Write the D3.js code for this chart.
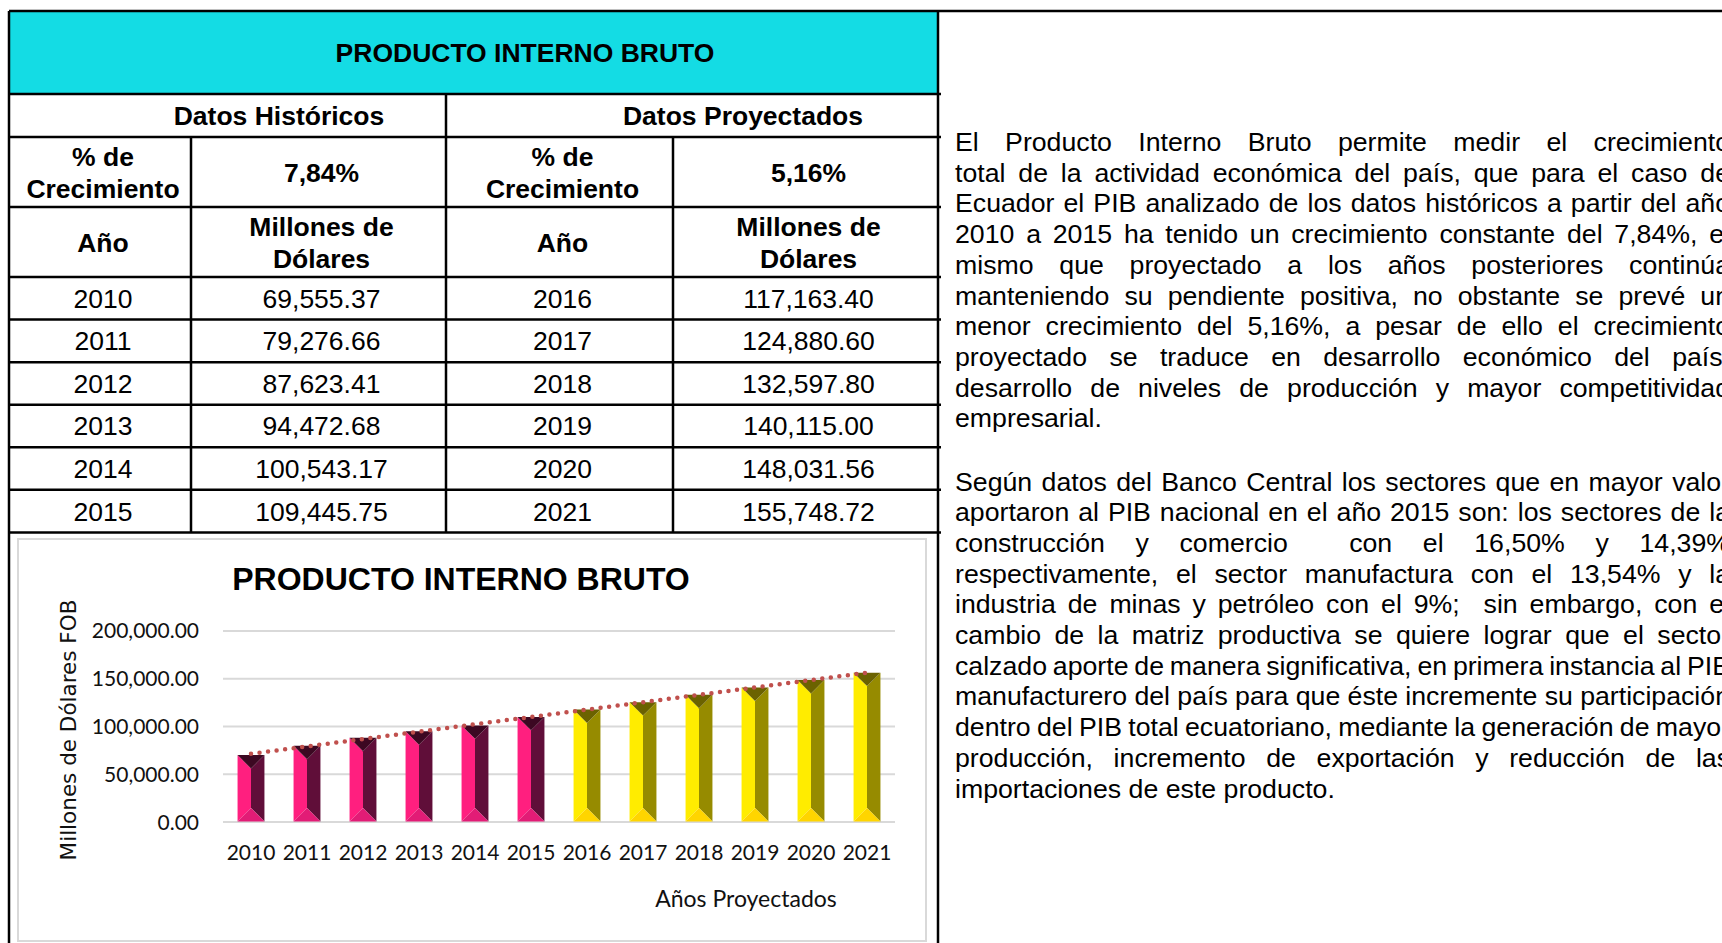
<!DOCTYPE html>
<html>
<head>
<meta charset="utf-8">
<script src="https://cdn.jsdelivr.net/npm/d3@7"></script>
<style>
  body { margin: 0; background: #fff; }
  svg { display: block; }
</style>
</head>
<body>
<script>
// datos del PIB (millones de dolares)
const histYears = [2010, 2011, 2012, 2013, 2014, 2015]
const histPib = [69555.37, 79276.66, 87623.41, 94472.68, 100543.17, 109445.75]
const projYears = [2016, 2017, 2018, 2019, 2020, 2021]
const projPib = [117163.40, 124880.60, 132597.80, 140115.00, 148031.56, 155748.72]
const growthHist = '7,84%'
const growthProj = '5,16%'
const yTicks = [0, 50000, 100000, 150000, 200000]

const parrafo1 = [
  'El Producto Interno Bruto permite medir el crecimiento',
  'total de la actividad económica del país, que para el caso de',
  'Ecuador el PIB analizado de los datos históricos a partir del año',
  '2010 a 2015 ha tenido un crecimiento constante del 7,84%, el',
  'mismo que proyectado a los años posteriores continúa',
  'manteniendo su pendiente positiva, no obstante se prevé un',
  'menor crecimiento del 5,16%, a pesar de ello el crecimiento',
  'proyectado se traduce en desarrollo económico del país,',
  'desarrollo de niveles de producción y mayor competitividad',
  'empresarial.'
]
const parrafo2 = [
  'Según datos del Banco Central los sectores que en mayor valor',
  'aportaron al PIB nacional en el año 2015 son: los sectores de la',
  'construcción y comercio  con el 16,50% y 14,39%',
  'respectivamente, el sector manufactura con el 13,54% y la',
  'industria de minas y petróleo con el 9%;  sin embargo, con el',
  'cambio de la matriz productiva se quiere lograr que el sector',
  'calzado aporte de manera significativa, en primera instancia al PIB',
  'manufacturero del país para que éste incremente su participación',
  'dentro del PIB total ecuatoriano, mediante la generación de mayor',
  'producción, incremento de exportación y reducción de las',
  'importaciones de este producto.'
]

const W = 1722, H = 943
const arial = '"Liberation Sans", Arial, sans-serif'
const calibri = 'Lato, "Open Sans", sans-serif'
const fmt = d3.format(',.2f')

let svg = d3.select('body').append('svg')
    .attr('width', W)
    .attr('height', H)

// ---------- tabla ----------
const colX = [9, 191, 446, 673, 938]
const rowY = [11, 94, 137, 207, 277]
const dataH = 42.57
for (let i = 1; i <= histYears.length; i++) rowY.push(277 + i * dataH)

svg.append('rect')
    .attr('x', colX[0]).attr('y', rowY[0])
    .attr('width', colX[4] - colX[0]).attr('height', rowY[1] - rowY[0])
    .attr('fill', '#14DCE4')

function cellText(txt, cx, cy, bold) {
    let lines = Array.isArray(txt) ? txt : [txt]
    let lh = 32
    let t = svg.append('text')
        .attr('font-family', arial)
        .attr('font-size', 26.5)
        .attr('font-weight', bold ? 'bold' : 'normal')
        .attr('text-anchor', 'middle')
        .attr('fill', '#000')
    lines.forEach((l, i) => {
        t.append('tspan')
            .attr('x', cx)
            .attr('y', cy + 9.5 + (i - (lines.length - 1) / 2) * lh)
            .text(l)
    })
}
function mid(a, b) { return (a + b) / 2 }

cellText('PRODUCTO INTERNO BRUTO', 525, mid(rowY[0], rowY[1]), true)
cellText('Datos Históricos', 279, mid(rowY[1], rowY[2]), true)
cellText('Datos Proyectados', 743, mid(rowY[1], rowY[2]), true)

cellText(['% de', 'Crecimiento'], mid(colX[0], colX[1]) + 3, mid(rowY[2], rowY[3]), true)
cellText(growthHist, mid(colX[1], colX[2]) + 3, mid(rowY[2], rowY[3]), true)
cellText(['% de', 'Crecimiento'], mid(colX[2], colX[3]) + 3, mid(rowY[2], rowY[3]), true)
cellText(growthProj, mid(colX[3], colX[4]) + 3, mid(rowY[2], rowY[3]), true)

cellText('Año', mid(colX[0], colX[1]) + 3, mid(rowY[3], rowY[4]), true)
cellText(['Millones de', 'Dólares'], mid(colX[1], colX[2]) + 3, mid(rowY[3], rowY[4]), true)
cellText('Año', mid(colX[2], colX[3]) + 3, mid(rowY[3], rowY[4]), true)
cellText(['Millones de', 'Dólares'], mid(colX[3], colX[4]) + 3, mid(rowY[3], rowY[4]), true)

histYears.forEach((y, i) => {
    let cy = mid(rowY[4 + i], rowY[5 + i])
    cellText(String(y), mid(colX[0], colX[1]) + 3, cy, false)
    cellText(fmt(histPib[i]), mid(colX[1], colX[2]) + 3, cy, false)
    cellText(String(projYears[i]), mid(colX[2], colX[3]) + 3, cy, false)
    cellText(fmt(projPib[i]), mid(colX[3], colX[4]) + 3, cy, false)
})

// bordes
let lines = svg.append('g').attr('stroke', '#000').attr('stroke-width', 2.5)
rowY.forEach((y, i) => {
    lines.append('line')
        .attr('x1', colX[0]).attr('x2', i === 0 ? W : colX[4] + 3)
        .attr('y1', y).attr('y2', y)
})
lines.append('line').attr('x1', colX[0]).attr('x2', colX[0]).attr('y1', rowY[0]).attr('y2', H)
lines.append('line').attr('x1', colX[4]).attr('x2', colX[4]).attr('y1', rowY[0]).attr('y2', H)
lines.append('line').attr('x1', colX[2]).attr('x2', colX[2]).attr('y1', rowY[1]).attr('y2', rowY[rowY.length - 1])
lines.append('line').attr('x1', colX[1]).attr('x2', colX[1]).attr('y1', rowY[2]).attr('y2', rowY[rowY.length - 1])
lines.append('line').attr('x1', colX[3]).attr('x2', colX[3]).attr('y1', rowY[2]).attr('y2', rowY[rowY.length - 1])

// ---------- grafico ----------
svg.append('rect')
    .attr('x', 18).attr('y', 539).attr('width', 908).attr('height', 402)
    .attr('fill', 'none').attr('stroke', '#D9D9D9').attr('stroke-width', 2)

const years = histYears.concat(projYears)
const pib = histPib.concat(projPib)
const chart = { left: 223, right: 895, top: 630.4, bottom: 821.5 }

let x = d3.scaleBand()
    .domain(years)
    .range([chart.left, chart.right])
    .paddingInner(0.52)
    .paddingOuter(0.26)
let y = d3.scaleLinear()
    .domain([0, 200000])
    .range([chart.bottom, chart.top])

svg.append('text')
    .attr('x', 461).attr('y', 590)
    .attr('text-anchor', 'middle')
    .attr('font-family', arial).attr('font-weight', 'bold').attr('font-size', 32)
    .text('PRODUCTO INTERNO BRUTO')

let yAxis = svg.append('g')
    .attr('transform', `translate(${chart.left},0)`)
    .call(d3.axisLeft(y).tickValues(yTicks).tickFormat(fmt).tickSize(-(chart.right - chart.left)).tickPadding(24))
yAxis.select('.domain').remove()
yAxis.selectAll('.tick line').attr('stroke', '#D9D9D9').attr('stroke-width', 2)
yAxis.selectAll('.tick text')
    .attr('font-family', calibri).attr('font-size', 21).attr('fill', '#111').attr('dy', '0.36em')

let xAxis = svg.append('g')
    .attr('transform', `translate(0,${chart.bottom})`)
    .call(d3.axisBottom(x).tickSize(0).tickPadding(24))
xAxis.select('.domain').remove()
xAxis.selectAll('.tick text')
    .attr('font-family', calibri).attr('font-size', 21).attr('fill', '#111')

svg.append('text')
    .attr('x', 746).attr('y', 907)
    .attr('text-anchor', 'middle')
    .attr('font-family', calibri).attr('font-size', 23).attr('fill', '#111')
    .text('Años Proyectados')

svg.append('text')
    .attr('transform', 'translate(76,730) rotate(-90)')
    .attr('text-anchor', 'middle')
    .attr('font-family', '"DejaVu Sans", Verdana, sans-serif').attr('font-size', 21.5).attr('fill', '#111')
    .text('Millones de Dólares FOB')

// barras con bisel
const pinkFaces = { left: '#FF1F7F', right: '#600E39', top: '#3C0822', bottom: '#E21C76' }
const yellowFaces = { left: '#FFEC00', right: '#968B00', top: '#6B6200', bottom: '#FFD500' }

let bars = svg.append('g').selectAll('g')
    .data(years.map((yr, i) => ({ year: yr, value: pib[i], proj: projYears.includes(yr) })))
    .enter().append('g')

bars.each(function(d) {
    let g = d3.select(this)
    let c = d.proj ? yellowFaces : pinkFaces
    let x0 = x(d.year), x1 = x0 + x.bandwidth(), xc = (x0 + x1) / 2
    let y0 = y(d.value), yb = y(0)
    let dep = Math.min(x.bandwidth() / 2, (yb - y0) / 2)
    let poly = (pts, fill) => g.append('polygon')
        .attr('points', pts.map(p => p.join(',')).join(' '))
        .attr('fill', fill)
    poly([[x0, y0], [xc, y0 + dep], [xc, yb - dep], [x0, yb]], c.left)
    poly([[x1, y0], [xc, y0 + dep], [xc, yb - dep], [x1, yb]], c.right)
    poly([[x0, y0], [x1, y0], [xc, y0 + dep]], c.top)
    poly([[x0, yb], [x1, yb], [xc, yb - dep]], c.bottom)
})

// linea de tendencia lineal (minimos cuadrados)
let n = pib.length
let mx = d3.mean(d3.range(n)), my = d3.mean(pib)
let slope = d3.sum(pib, (v, i) => (i - mx) * (v - my)) / d3.sum(d3.range(n), i => (i - mx) * (i - mx))
let icpt = my - slope * mx
let cx = yr => x(yr) + x.bandwidth() / 2
svg.append('line')
    .attr('x1', cx(years[0])).attr('y1', y(icpt))
    .attr('x2', cx(years[n - 1])).attr('y2', y(icpt + slope * (n - 1)))
    .attr('stroke', '#C0504D').attr('stroke-width', 4.5)
    .attr('stroke-linecap', 'round').attr('stroke-dasharray', '0 8.6')

// ---------- texto ----------
const textX = 955, textRight = 1730, fs = 26.7, lh = 30.7

let meas = svg.append('text').attr('font-family', arial).attr('font-size', fs).attr('visibility', 'hidden')
function wordWidth(w) {
    if (!w) return 0
    meas.text(w)
    return meas.node().getComputedTextLength()
}
const spaceW = 0.278 * fs

function drawParagraph(lineArr, baseY) {
    lineArr.forEach((line, li) => {
        let words = line.split(' ')
        let widths = words.map(wordWidth)
        let last = li === lineArr.length - 1
        let gap = last ? spaceW
            : (textRight - textX - d3.sum(widths)) / (words.length - 1)
        let t = svg.append('text')
            .attr('font-family', arial).attr('font-size', fs).attr('fill', '#000')
            .attr('y', baseY + li * lh)
        let xp = textX
        words.forEach((w, i) => {
            if (w) t.append('tspan').attr('x', xp).text(w)
            xp += widths[i] + gap
        })
    })
}
drawParagraph(parrafo1, 151)
drawParagraph(parrafo2, 490.5)
meas.remove()
</script>
</body>
</html>
